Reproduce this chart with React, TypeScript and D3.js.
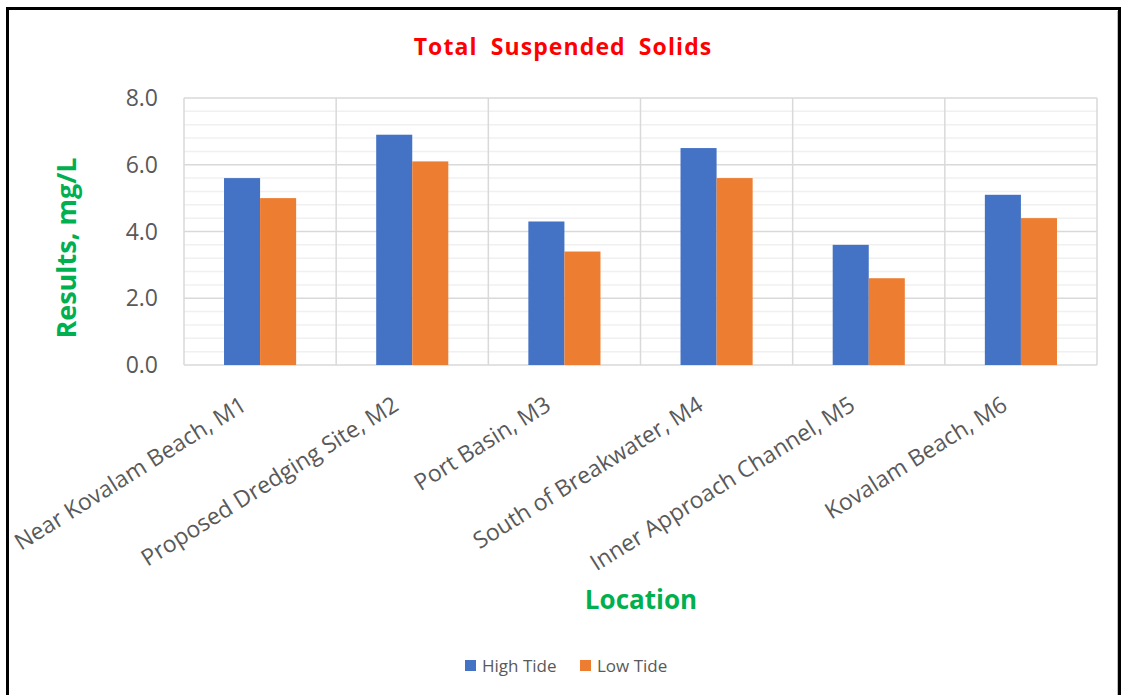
import React from "react";
import * as d3 from "d3";

const categories = [
  "Near Kovalam Beach, M1",
  "Proposed Dredging Site, M2",
  "Port Basin, M3",
  "South of Breakwater, M4",
  "Inner Approach Channel, M5",
  "Kovalam Beach, M6",
];
const seriesNames = ["High Tide", "Low Tide"];
const highTide = [5.6, 6.9, 4.3, 6.5, 3.6, 5.1];
const lowTide = [5.0, 6.1, 3.4, 5.6, 2.6, 4.4];
const yTicks = [0, 2, 4, 6, 8];
const minorStep = 0.4;
const colors = ["#4472C4", "#ED7D31"];

const W = 1132;
const H = 695;
const plot = { left: 184, right: 1097, top: 98, bottom: 365 };
const FONT = "'Open Sans', 'Noto Sans', sans-serif";

export default function App() {
  const x0 = d3
    .scaleBand<string>()
    .domain(categories)
    .range([plot.left, plot.right])
    .paddingInner(0)
    .paddingOuter(0);
  const bw = x0.bandwidth();
  const x1 = d3
    .scaleBand<string>()
    .domain(seriesNames)
    .range([0, bw])
    .paddingInner(0)
    .paddingOuter(1.11);
  const y = d3.scaleLinear().domain([0, 8]).range([plot.bottom, plot.top]);

  const minor = d3.range(0, 8 + 1e-9, minorStep).filter(
    (v) => !yTicks.some((t) => Math.abs(t - v) < 1e-6)
  );
  const data = [highTide, lowTide];

  return (
    <svg
      width={W}
      height={H}
      style={{ position: "absolute", left: 0, top: 0, background: "#fff" }}
      fontFamily={FONT}
    >
      <rect x={0} y={0} width={W} height={H} fill="#fff" />
      {/* outer frame */}
      <rect x={7.5} y={8.5} width={1112} height={700} fill="none" stroke="#000" strokeWidth={3} />
      <line x1={1117.5} x2={1117.5} y1={11} y2={H} stroke="#bfbfbf" strokeWidth={1} />

      {/* title */}
      <text
        x={563}
        y={55}
        textAnchor="middle"
        fill="#FF0000"
        fontWeight="bold"
        fontSize={23}
        letterSpacing={1.1}
        wordSpacing={6}
      >
        Total Suspended Solids
      </text>

      {/* minor gridlines */}
      {minor.map((v, i) => (
        <line key={"m" + i} x1={plot.left} x2={plot.right} y1={y(v)} y2={y(v)} stroke="#f0f0f0" strokeWidth={1.5} />
      ))}
      {/* major gridlines */}
      {yTicks.map((v) => (
        <line key={"g" + v} x1={plot.left} x2={plot.right} y1={y(v)} y2={y(v)} stroke="#d9d9d9" strokeWidth={1.5} />
      ))}
      {/* vertical category gridlines */}
      {categories.map((c, i) => (
        <line key={"v" + i} x1={x0(c)!} x2={x0(c)!} y1={plot.top} y2={plot.bottom} stroke="#d9d9d9" strokeWidth={1.5} />
      ))}
      <line x1={plot.right} x2={plot.right} y1={plot.top} y2={plot.bottom} stroke="#d9d9d9" strokeWidth={1.5} />

      {/* bars */}
      {data.map((vals, si) =>
        vals.map((v, ci) => (
          <rect
            key={si + "-" + ci}
            x={x0(categories[ci])! + x1(seriesNames[si])!}
            y={y(v)}
            width={x1.bandwidth()}
            height={y(0) - y(v)}
            fill={colors[si]}
          />
        ))
      )}

      {/* y tick labels */}
      {yTicks.map((v) => (
        <text key={"t" + v} x={158} y={y(v) + 8} textAnchor="end" fill="#595959" fontSize={23}>
          {d3.format(".1f")(v)}
        </text>
      ))}

      {/* y axis title */}
      <text
        transform={`translate(76, ${248}) rotate(-90)`}
        textAnchor="middle"
        fill="#00B050"
        fontWeight="bold"
        fontSize={27}
      >
        Results, mg/L
      </text>

      {/* x labels */}
      {categories.map((c) => {
        const cx = x0(c)! + bw / 2;
        return (
          <text
            key={"x" + c}
            transform={`translate(${cx - 12}, ${409}) rotate(-32)`}
            textAnchor="end"
            fill="#595959"
            fontSize={23}
          >
            {c}
          </text>
        );
      })}

      {/* x axis title */}
      <text x={641} y={609} textAnchor="middle" fill="#00B050" fontWeight="bold" fontSize={26}>
        Location
      </text>

      {/* legend */}
      {seriesNames.map((s, i) => {
        const lx = [465, 580][i];
        return (
          <g key={"l" + s}>
            <rect x={lx} y={660} width={11} height={11} fill={colors[i]} />
            <text x={lx + 17} y={672} fill="#595959" fontSize={17}>
              {s}
            </text>
          </g>
        );
      })}
    </svg>
  );
}
